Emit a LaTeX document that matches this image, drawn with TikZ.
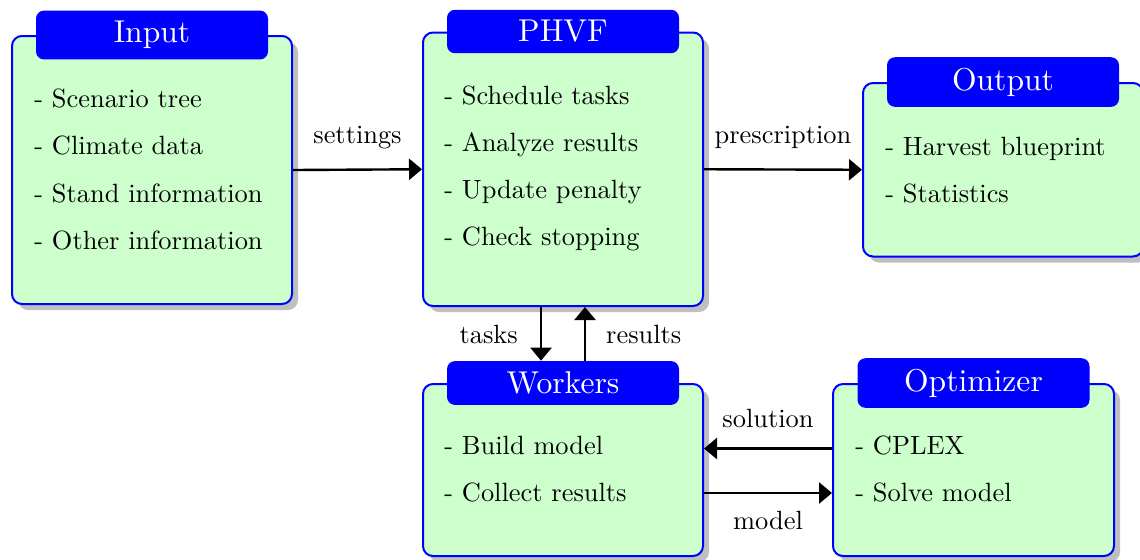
\documentclass[tikz,border=0pt]{standalone}
\usepackage{fontspec}
\setmainfont{lmroman10-regular.otf}
\usetikzlibrary{shadows,arrows.meta}
\begin{document}
\begin{tikzpicture}[x=0.5pt,y=-0.5pt]
\tikzset{
  panel/.style={draw=blue, line width=1pt, fill=green!20, rounded corners=5pt,
    inner sep=0pt, anchor=north west,
    drop shadow={shadow xshift=3pt, shadow yshift=-3pt, fill=black, opacity=0.25}},
  tab/.style={fill=blue, text=white, rounded corners=4pt, minimum width=116pt,
    inner xsep=0pt, inner ysep=5.3pt, font=\fontsize{15.8}{19}\selectfont},
  item/.style={anchor=base west, inner sep=0pt, font=\fontsize{13.2}{16}\selectfont},
  lbl/.style={inner sep=0pt, font=\fontsize{13.2}{16}\selectfont},
  arr/.style={line width=1.2pt, -{Triangle[length=6.5pt,width=10.5pt]}},
}
\useasboundingbox (0,0) rectangle (1140,559);

% Input
\node[panel, minimum width=140pt, minimum height=134pt] (input) at (11,35) {};
\node[tab] (inputtab) at (input.north) {Input};
\node[item] (input1) at (34,107.5) {- Scenario tree};
\node[item] (input2) at (34,154.8) {- Climate data};
\node[item] (input3) at (34,202.1) {- Stand information};
\node[item] (input4) at (34,249.4) {- Other information};

% PHVF
\node[panel, minimum width=140pt, minimum height=136.75pt] (phvf) at (422,31.5) {};
\node[tab] (phvftab) at (phvf.north) {PHVF};
\node[item] (phvf1) at (444,104) {- Schedule tasks};
\node[item] (phvf2) at (444,151.3) {- Analyze results};
\node[item] (phvf3) at (444,198.6) {- Update penalty};
\node[item] (phvf4) at (444,245.9) {- Check stopping};

% Output
\node[panel, minimum width=140pt, minimum height=86.75pt] (output) at (862,82) {};
\node[tab] (outputtab) at (output.north) {Output};
\node[item] (output1) at (885,155) {- Harvest blueprint};
\node[item] (output2) at (885,202.3) {- Statistics};

% Workers
\node[panel, minimum width=140pt, minimum height=86pt] (workers) at (422,383) {};
\node[tab] (workerstab) at (workers.north) {Workers};
\node[item] (workers1) at (444,454.5) {- Build model};
\node[item] (workers2) at (444,501.8) {- Collect results};

% Optimizer
\node[panel, minimum width=140.5pt, minimum height=86pt] (opt) at (832,383) {};
\node[tab] (opttab) at (opt.north) {Optimizer};
\node[item] (opt1) at (855,454.5) {- CPLEX};
\node[item] (opt2) at (855,501.8) {- Solve model};

% Connectors
\draw[arr] (input.east) -- node[lbl, anchor=base, yshift=13pt] {settings} (phvf.west);
\draw[arr] (phvf.east) -- node[lbl, anchor=base, yshift=13pt] {prescription} (output.west);
\draw[arr] ([xshift=-11pt]phvf.south) --
  node[lbl, anchor=base east, xshift=-11pt, yshift=-5pt] {tasks} ([xshift=-11pt]workerstab.north);
\draw[arr] ([xshift=11pt]workerstab.north) --
  node[lbl, anchor=base west, xshift=10pt, yshift=-5pt] {results} ([xshift=11pt]phvf.south);
\draw[arr] ([yshift=10.75pt]opt.west) --
  node[lbl, anchor=base, yshift=10.5pt] {solution} ([yshift=10.75pt]workers.east);
\draw[arr] ([yshift=-11.5pt]workers.east) --
  node[lbl, anchor=base, yshift=-18pt] {model} ([yshift=-11.5pt]opt.west);
\end{tikzpicture}
\end{document}
